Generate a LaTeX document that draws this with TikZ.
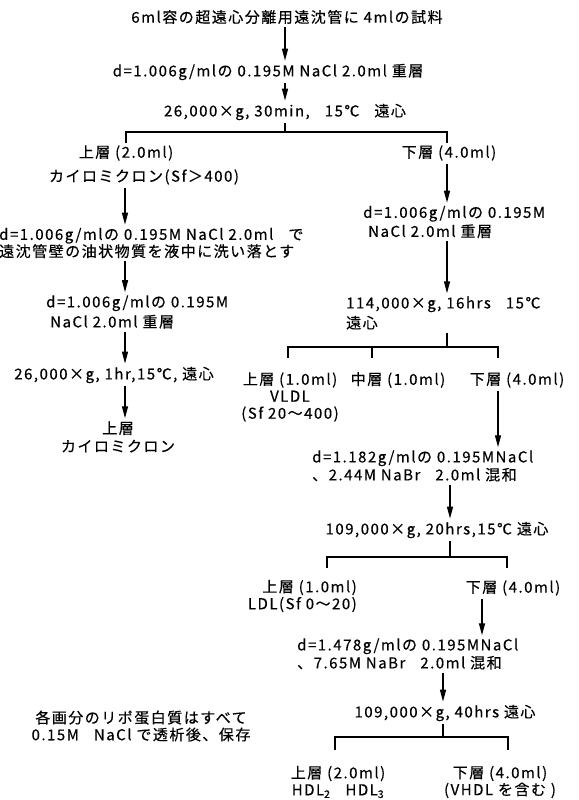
\documentclass[tikz,border=0pt]{standalone}
\usepackage{fontspec}
\setmainfont{Noto Sans CJK JP}[LetterSpace=10, FakeBold=0.4]
\usetikzlibrary{arrows.meta, positioning}

\begin{document}
\begin{tikzpicture}[x=1pt, y=-1pt,
  >={Triangle[length=12pt,width=6pt]},
  txt/.style={inner xsep=1pt, inner ysep=3pt, font=\fontsize{15}{17}\selectfont},
  flow/.style={->, line width=1.4pt},
  brk/.style={line width=1.4pt}]
\useasboundingbox (0,0) rectangle (578,800);
% columns of the arrows
\coordinate (c1) at (285,0);
\coordinate (cl) at (125,0);
\coordinate (cr) at (447,0);
% top
\node[txt] (t1) at (287,17) {6ml容の超遠心分離用遠沈管に\ 4mlの試料};
\node[txt] (t2) at (268,72) {d=1.006g/mlの 0.195M NaCl 2.0ml 重層};
\node[txt] (t3) at (285,112) {26,000×g, 30min,\quad 15℃\quad 遠心};
\draw[flow] (t1.south -| c1) -- (t2.north -| c1);
\draw[flow] (t2.south -| c1) -- (t3.north -| c1);
\coordinate (bar1) at (285,132);
\draw[brk] (t3.south -| bar1) -- (bar1);
\draw[brk] (126,143) coordinate (k1l) |- (bar1) -| (447,143) coordinate (k1r);
% left branch
\node[txt] (l1) at (126,153) {上層 (2.0ml)};
\node[txt] (l2) at (144,177) {カイロミクロン(Sf＞400)};
\node[txt, anchor=west, align=left, font=\fontsize{15}{17}\selectfont] (l3) at (-2,243)
  {d=1.006g/mlの 0.195M NaCl 2.0ml\quad で\\遠沈管壁の油状物質を液中に洗い落とす};
\node[txt, anchor=west, align=left, font=\fontsize{15}{20}\selectfont] (l4) at (45,312)
  {d=1.006g/mlの 0.195M\\\hspace{4pt}NaCl 2.0ml 重層};
\node[txt] (l5) at (114,375) {26,000×g, 1hr,15℃, 遠心};
\node[txt, align=center, font=\fontsize{15}{18}\selectfont] (l6) at (118,437) {上層\\カイロミクロン};
\draw[flow] (l2.south -| cl) -- (l3.north -| cl);
\draw[flow] (l3.south -| cl) -- (l4.north -| cl);
\draw[flow] (l4.south -| cl) -- (l5.north -| cl);
\draw[flow] (l5.south -| cl) -- (l6.north -| cl);
% right branch
\node[txt] (r1) at (449,153) {下層 (4.0ml)};
\node[txt, anchor=west, align=left, font=\fontsize{15}{19}\selectfont] (r2) at (362,222)
  {d=1.006g/mlの 0.195M\\\hspace{5pt}NaCl 2.0ml 重層};
\node[txt, anchor=west, align=left, font=\fontsize{15}{20}\selectfont] (r3) at (345,313)
  {114,000×g, 16hrs\quad 15℃\\遠心};
\draw[flow] (r1.south -| cr) -- (r2.north -| cr);
\draw[flow] (r2.south -| cr) -- (r3.north -| cr);
\coordinate (bar2) at (447,347);
\draw[brk] (r3.south -| bar2) -- (bar2);
\draw[brk] (288,358) coordinate (k2a) |- (bar2) -| (498,358) coordinate (k2c);
\draw[brk] (372,358) coordinate (k2b) -- (k2b |- bar2);
\node[txt, align=center] (r4a) at (290,397) {上層 (1.0ml)\\VLDL\\(Sf 20～400)};
\node[txt] (r4b) at (398,380) {中層 (1.0ml)};
\node[txt] (r4c) at (517,380) {下層 (4.0ml)};
\node[txt, anchor=west, align=left, font=\fontsize{15}{18}\selectfont] (r5) at (311,466)
  {d=1.182g/mlの 0.195MNaCl\\、2.44M NaBr\quad 2.0ml 混和};
\node[txt] (r6) at (437,530) {109,000×g, 20hrs,15℃ 遠心};
\draw[flow] (r4c.south -| k2c) -- (r5.north -| k2c);
\coordinate (bar3) at (450,557);
\draw[flow] (r5.south -| bar3) -- (r6.north -| bar3);
\draw[brk] (r6.south -| bar3) -- (bar3);
\draw[brk] (327,568) coordinate (k3l) |- (bar3) -| (507,568) coordinate (k3r);
\node[txt, anchor=east, align=right] (r7a) at (358,596) {上層 (1.0ml)\\LDL(Sf 0～20)};
\node[txt] (r7b) at (513,588) {下層 (4.0ml)};
\coordinate (c7) at (482,0);
\node[txt, anchor=west, align=left, font=\fontsize{15}{18}\selectfont] (r8) at (296,654)
  {d=1.478g/mlの 0.195MNaCl\\、7.65M NaBr\quad 2.0ml 混和};
\node[txt] (r9) at (445,713) {109,000×g, 40hrs 遠心};
\draw[flow] (r7b.south -| c7) -- (r8.north -| c7);
\coordinate (bar4) at (443,737);
\draw[flow] (r8.south -| bar4) -- (r9.north -| bar4);
\draw[brk] (r9.south -| bar4) -- (bar4);
\draw[brk] (335,750) coordinate (k4l) |- (bar4) -| (508,750) coordinate (k4r);
\node[txt, align=center] (r10a) at (338,782) {上層 (2.0ml)\\HDL\textsubscript{2}\quad HDL\textsubscript{3}};
\node[txt, align=center] (r10b) at (500,782) {下層 (4.0ml)\\(VHDL を含む )};
% note
\node[txt, align=center] (note) at (141,726) {各画分のリポ蛋白質はすべて\\0.15M\quad NaCl で透析後、保存};
\end{tikzpicture}
\end{document}
